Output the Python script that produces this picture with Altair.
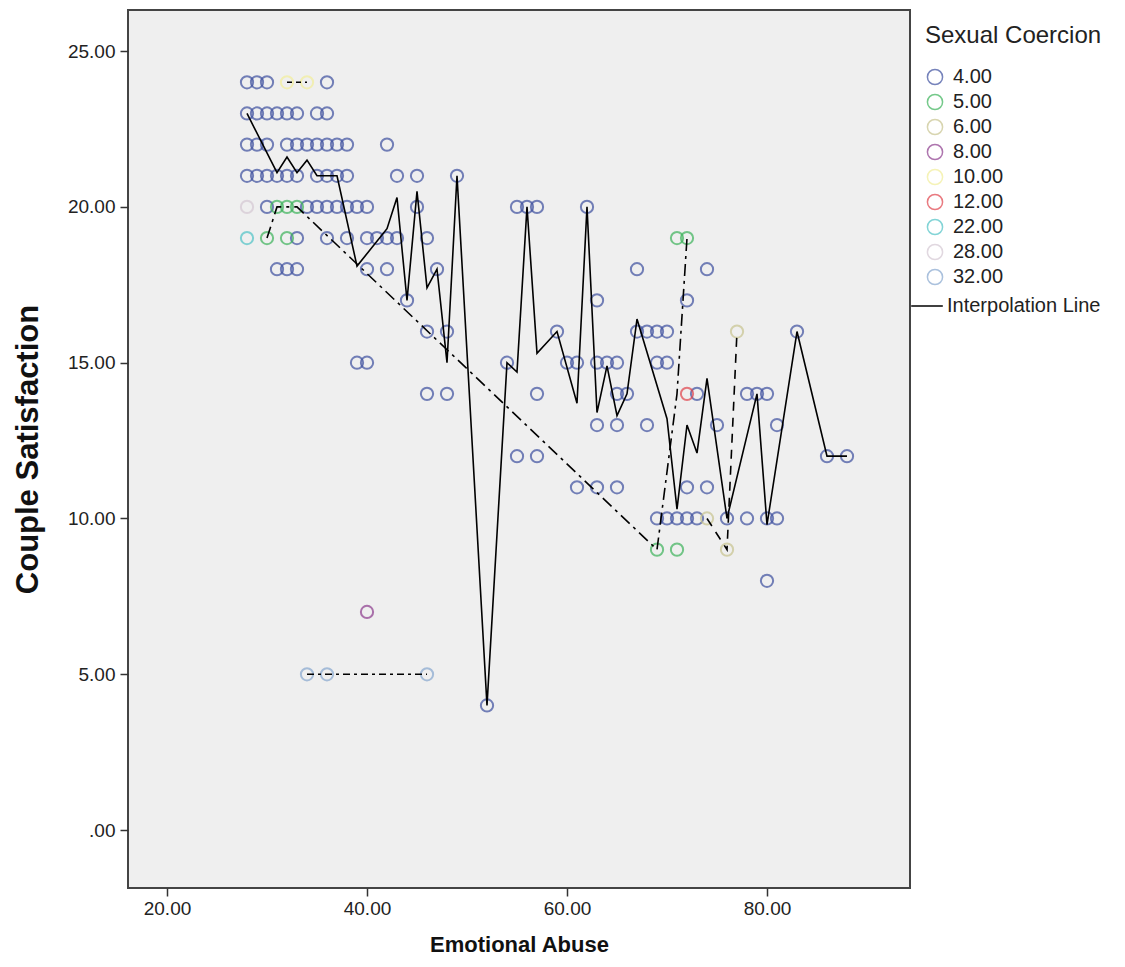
import altair as alt
import pandas as pd

# ---------------- data ----------------
categories = ["4.00", "5.00", "6.00", "8.00", "10.00", "12.00", "22.00", "28.00", "32.00"]
cat_colors = ["#3d4f9f", "#3cb35a", "#c8c48f", "#8c3b8d", "#f2ee9a",
              "#e0424b", "#4fc3c6", "#d5c8d3", "#87a7cf"]

# Sexual Coercion = 4.00 : Couple Satisfaction value -> Emotional Abuse values
g4_by_sat = {
    24: [28, 29, 30, 36],
    23: [28, 29, 30, 31, 32, 33, 35, 36],
    22: [28, 29, 30, 32, 33, 34, 35, 36, 37, 38, 42],
    21: [28, 29, 30, 31, 32, 33, 35, 36, 37, 38, 43, 45, 49],
    20: [30, 34, 35, 36, 37, 38, 39, 40, 45, 55, 56, 57, 62],
    19: [33, 36, 38, 40, 41, 42, 43, 46],
    18: [31, 32, 33, 40, 42, 47, 67, 74],
    17: [44, 63, 72],
    16: [46, 48, 59, 67, 68, 69, 70, 83],
    15: [39, 40, 54, 60, 61, 63, 64, 65, 69, 70],
    14: [46, 48, 57, 65, 66, 73, 78, 79, 80],
    13: [63, 65, 68, 75, 81],
    12: [55, 57, 86, 88],
    11: [61, 63, 65, 72, 74],
    10: [69, 70, 71, 72, 73, 76, 78, 80, 81],
    8: [80],
    4: [52],
}
g5_x = [30, 31, 32, 33, 32, 69, 71, 71, 72]
g5_y = [19, 20, 20, 20, 19, 9, 9, 19, 19]
g6_x = [74, 76, 77]
g6_y = [10, 9, 16]
g8_x = [40]
g8_y = [7]
g10_x = [32, 34]
g10_y = [24, 24]
g12_x = [72]
g12_y = [14]
g22_x = [28]
g22_y = [19]
g28_x = [28]
g28_y = [20]
g32_x = [34, 36, 46]
g32_y = [5, 5, 5]

# interpolation line vertices per group
line4_x = [28, 31, 32, 33, 34, 35, 37, 39, 42, 43, 44, 45, 46, 47, 48, 49, 52, 54, 55, 56,
           57, 59, 61, 62, 63, 64, 65, 66, 67, 70, 71, 72, 73, 74, 76, 79, 80, 83, 86, 88]
line4_y = [23.0, 21.1, 21.6, 21.1, 21.5, 21.0, 21.0, 18.1, 19.3, 20.3, 17.0, 20.5, 17.4, 18.0,
           15.0, 21.0, 4.0, 15.0, 14.7, 20.0, 15.3, 16.0, 13.7, 20.0, 13.4, 14.9, 13.3, 14.0,
           16.4, 13.2, 10.3, 13.0, 12.1, 14.5, 10.0, 14.0, 9.8, 16.0, 12.0, 12.0]
line5_x = [30, 31, 33, 69, 71, 72]
line5_y = [19, 20, 20, 9, 14, 19]
line6_x = [74, 76, 77]
line6_y = [10, 9, 16]
line10_x = [32, 34]
line10_y = [24, 24]
line32_x = [34, 36, 46]
line32_y = [5, 5, 5]

x_ticks = [20, 40, 60, 80]
y_ticks = [0, 5, 10, 15, 20, 25]

# ---------------- build tables ----------------
rows = []
for sat, eas in g4_by_sat.items():
    for ea in eas:
        rows.append({"ea": ea, "cs": sat, "sc": "4.00"})
for lab, xs, ys in [("5.00", g5_x, g5_y), ("6.00", g6_x, g6_y), ("8.00", g8_x, g8_y),
                    ("10.00", g10_x, g10_y), ("12.00", g12_x, g12_y), ("22.00", g22_x, g22_y),
                    ("28.00", g28_x, g28_y), ("32.00", g32_x, g32_y)]:
    for a, b in zip(xs, ys):
        rows.append({"ea": a, "cs": b, "sc": lab})
pts = pd.DataFrame(rows)

LABEL_FONT = "Liberation Sans, Arial, sans-serif"
TITLE_FONT = "Liberation Sans Narrow, Arial Narrow, Liberation Sans, sans-serif"

xscale = alt.Scale(domain=[16.1, 94.3], nice=False, zero=False)
yscale = alt.Scale(domain=[-1.86, 26.32], nice=False, zero=False)

xaxis = alt.Axis(values=x_ticks, format=".2f", grid=False, domain=False,
                 tickColor="#333", tickSize=8, tickWidth=1.5,
                 labelFont=LABEL_FONT, labelFontSize=19, labelColor="#222", labelPadding=3,
                 titleFont=TITLE_FONT, titleFontSize=22, titleFontWeight="bold",
                 titleColor="#111", titleY=56, titleBaseline="middle")
yaxis = alt.Axis(values=y_ticks, grid=False, domain=False,
                 labelExpr="datum.value == 0 ? '.00' : format(datum.value, '.2f')",
                 tickColor="#333", tickSize=8, tickWidth=1.5,
                 labelFont=LABEL_FONT, labelFontSize=19, labelColor="#222", labelPadding=5,
                 titleFont=TITLE_FONT, titleFontSize=31, titleFontWeight="bold",
                 titleColor="#111", titleX=-100, titleY=439, titleAngle=-90,
                 titleAlign="center", titleBaseline="middle")

points = alt.Chart(pts).mark_point(shape="circle", filled=False, size=150, strokeWidth=2).encode(
    x=alt.X("ea:Q", scale=xscale, axis=xaxis, title="Emotional Abuse"),
    y=alt.Y("cs:Q", scale=yscale, axis=yaxis, title="Couple Satisfaction"),
    color=alt.Color("sc:N", scale=alt.Scale(domain=categories, range=cat_colors),
                    legend=alt.Legend(title="Sexual Coercion", orient="none",
                                      legendX=797, legendY=14,
                                      titleFont=LABEL_FONT, titleFontSize=24,
                                      titleFontWeight="normal", titleColor="#222",
                                      titlePadding=19,
                                      labelFont=LABEL_FONT, labelFontSize=20,
                                      labelColor="#222", labelOffset=8,
                                      symbolType="circle", symbolSize=230,
                                      symbolStrokeWidth=1.5, rowPadding=3)),
)

interp_legend = alt.Legend(title=None, orient="none", legendX=782, legendY=279,
                           symbolType="stroke", symbolStrokeColor="black",
                           symbolSize=1000, symbolStrokeWidth=1.5,
                           labelFont=LABEL_FONT, labelFontSize=20, labelColor="#222",
                           labelOffset=3)


def line_layer(xs, ys, dash=None):
    df = pd.DataFrame({"ea": xs, "cs": ys, "lbl": "Interpolation Line"})
    kw = {}
    if dash:
        kw["strokeDash"] = dash
    return alt.Chart(df).mark_line(color="black", strokeWidth=1.6, **kw).encode(
        x=alt.X("ea:Q", scale=xscale),
        y=alt.Y("cs:Q", scale=yscale),
        opacity=alt.Opacity("lbl:N", scale=alt.Scale(domain=["Interpolation Line"], range=[1]),
                            legend=interp_legend),
    )


lines = [
    line_layer(line4_x, line4_y),
    line_layer(line5_x, line5_y, [12, 5, 3, 5]),
    line_layer(line6_x, line6_y, [9, 7]),
    line_layer(line10_x, line10_y, [5, 4]),
    line_layer(line32_x, line32_y, [7, 4, 3, 4]),
]

chart = alt.layer(points, *lines).properties(
    width=782, height=878,
    background="white",
    padding={"left": 128, "top": 10, "right": 215, "bottom": 79},
    autosize=alt.AutoSizeParams(type="none"),
).configure_view(
    fill="#efefef", stroke="#444", strokeWidth=2
)

chart.save("out.html", embed_options={"renderer": "svg", "actions": False})
